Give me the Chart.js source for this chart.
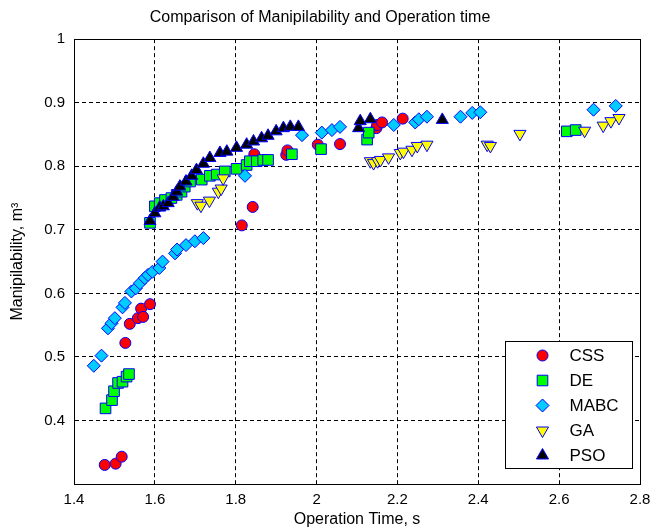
<!DOCTYPE html>
<html>
<head>
<meta charset="utf-8">
<script src="https://cdn.jsdelivr.net/npm/chart.js@4/dist/chart.umd.min.js"></script>
<style>
  html, body { margin: 0; padding: 0; background: #fff; }
  #wrap { width: 665px; height: 531px; }
</style>
</head>
<body>
<div id="wrap"><canvas id="c" width="665" height="531"></canvas></div>
<script>
// values
const cssX = [1.476, 1.503, 1.518, 1.527, 1.538, 1.558, 1.566, 1.571, 1.588, 1.815, 1.842, 1.846, 1.925, 1.928, 2.003, 2.058, 2.148, 2.150, 2.162, 2.213];
const cssY = [0.330, 0.332, 0.343, 0.522, 0.552, 0.561, 0.576, 0.563, 0.583, 0.707, 0.736, 0.819, 0.818, 0.825, 0.834, 0.835, 0.860, 0.865, 0.869, 0.875];

const deX = [1.478, 1.494, 1.499, 1.509, 1.520, 1.530, 1.536, 1.588, 1.600, 1.612, 1.625, 1.641, 1.654, 1.666, 1.674, 1.687, 1.716, 1.736, 1.753, 1.773, 1.802, 1.827, 1.835, 1.852, 1.868, 1.880, 1.939, 2.011, 2.125, 2.129, 2.619, 2.641];
const deY = [0.419, 0.432, 0.446, 0.459, 0.461, 0.469, 0.473, 0.711, 0.737, 0.742, 0.747, 0.750, 0.755, 0.760, 0.768, 0.776, 0.779, 0.785, 0.787, 0.792, 0.796, 0.802, 0.808, 0.808, 0.810, 0.810, 0.819, 0.827, 0.842, 0.853, 0.855, 0.857];

const mabcX = [1.449, 1.468, 1.484, 1.493, 1.501, 1.520, 1.526, 1.542, 1.553, 1.563, 1.575, 1.583, 1.594, 1.611, 1.619, 1.650, 1.655, 1.677, 1.699, 1.720, 1.823, 1.964, 2.013, 2.038, 2.058, 2.191, 2.244, 2.253, 2.273, 2.356, 2.385, 2.405, 2.685, 2.740];
const mabcY = [0.486, 0.502, 0.545, 0.553, 0.561, 0.578, 0.585, 0.603, 0.608, 0.616, 0.624, 0.629, 0.634, 0.640, 0.650, 0.663, 0.669, 0.676, 0.682, 0.687, 0.785, 0.849, 0.853, 0.857, 0.862, 0.865, 0.869, 0.874, 0.878, 0.878, 0.884, 0.885, 0.889, 0.895];

const gaX = [1.705, 1.714, 1.735, 1.757, 1.764, 1.769, 2.133, 2.141, 2.151, 2.158, 2.178, 2.207, 2.215, 2.236, 2.249, 2.273, 2.422, 2.430, 2.503, 2.663, 2.709, 2.728, 2.748];
const gaY = [0.742, 0.738, 0.746, 0.760, 0.765, 0.781, 0.808, 0.805, 0.808, 0.810, 0.814, 0.821, 0.823, 0.826, 0.832, 0.834, 0.834, 0.832, 0.851, 0.856, 0.864, 0.871, 0.876];

const psoX = [1.588, 1.600, 1.612, 1.621, 1.633, 1.645, 1.654, 1.662, 1.677, 1.691, 1.703, 1.720, 1.736, 1.761, 1.778, 1.802, 1.827, 1.844, 1.864, 1.880, 1.900, 1.918, 1.935, 1.955, 2.104, 2.108, 2.133, 2.311];
const psoY = [0.714, 0.726, 0.735, 0.737, 0.742, 0.752, 0.760, 0.768, 0.776, 0.785, 0.794, 0.804, 0.813, 0.821, 0.823, 0.829, 0.834, 0.839, 0.844, 0.848, 0.855, 0.860, 0.862, 0.862, 0.860, 0.871, 0.874, 0.873];

const seriesNames = ['CSS', 'DE', 'MABC', 'GA', 'PSO'];
const xTicks = [1.4, 1.6, 1.8, 2, 2.2, 2.4, 2.6, 2.8];
const yTicks = [0.3, 0.4, 0.5, 0.6, 0.7, 0.8, 0.9, 1];

const FONT = '"Liberation Sans", Arial, sans-serif';

function pts(xs, ys) {
  return xs.map((x, i) => ({ x: x, y: ys[i] }));
}

// frame around the plot + legend inside the axes
const framePlugin = {
  id: 'frame',
  afterDraw(chart) {
    const ctx = chart.ctx;
    const a = chart.chartArea;
    ctx.save();
    ctx.strokeStyle = '#000';
    ctx.lineWidth = 1;
    ctx.strokeRect(Math.round(a.left) + 0.5, Math.round(a.top) + 0.5,
      Math.round(a.right - a.left), Math.round(a.bottom - a.top));

    // legend box
    const bx = 505.5, by = 341.5, bw = 127, bh = 127;
    ctx.fillStyle = '#fff';
    ctx.fillRect(bx, by, bw, bh);
    ctx.strokeRect(bx, by, bw, bh);
    ctx.font = '17px ' + FONT;
    ctx.textBaseline = 'middle';
    chart.data.datasets.forEach((ds, i) => {
      const y = by + 14 + i * 25;
      ctx.fillStyle = ds.backgroundColor;
      ctx.strokeStyle = ds.borderColor;
      ctx.lineWidth = ds.borderWidth;
      Chart.helpers.drawPoint(ctx, {
        pointStyle: ds.pointStyle,
        rotation: ds.rotation || 0,
        radius: ds.pointRadius,
        borderWidth: ds.borderWidth
      }, bx + 37, y);
      ctx.fillStyle = '#000';
      ctx.fillText(ds.label, bx + 64, y + 1);
    });
    ctx.restore();
  }
};

const ctx = document.getElementById('c');
new Chart(ctx, {
  type: 'scatter',
  data: {
    datasets: [
      { label: seriesNames[0], data: pts(cssX, cssY), pointStyle: 'circle', pointRadius: 5.5,
        backgroundColor: '#ff0000', borderColor: '#0000ff', borderWidth: 1, order: 5 },
      { label: seriesNames[1], data: pts(deX, deY), pointStyle: 'rect', pointRadius: 7.5,
        backgroundColor: '#00ff00', borderColor: '#0000ff', borderWidth: 1, order: 4 },
      { label: seriesNames[2], data: pts(mabcX, mabcY), pointStyle: 'rectRot', pointRadius: 6.5,
        backgroundColor: '#00ccff', borderColor: '#0000ff', borderWidth: 1, order: 3 },
      { label: seriesNames[3], data: pts(gaX, gaY), pointStyle: 'triangle', rotation: 180, pointRadius: 7,
        backgroundColor: '#ffff00', borderColor: '#0000ff', borderWidth: 1, order: 2 },
      { label: seriesNames[4], data: pts(psoX, psoY), pointStyle: 'triangle', pointRadius: 7,
        backgroundColor: '#000000', borderColor: '#0000ff', borderWidth: 1, order: 1 }
    ]
  },
  options: {
    responsive: false,
    animation: false,
    events: [],
    layout: { padding: { left: 0, right: 25, top: 0, bottom: 0 } },
    plugins: {
      legend: { display: false },
      tooltip: { enabled: false },
      title: {
        display: true,
        text: 'Comparison of Manipilability and Operation time',
        color: '#000',
        font: { family: FONT, size: 16, weight: 'normal' },
        padding: { top: 8, bottom: 12 }
      }
    },
    scales: {
      x: {
        type: 'linear',
        min: xTicks[0],
        max: xTicks[xTicks.length - 1],
        afterBuildTicks: (s) => { s.ticks = xTicks.map(v => ({ value: v })); },
        afterFit: (s) => { s.height = 47; },
        ticks: {
          color: '#000',
          font: { family: FONT, size: 15 },
          padding: 7,
          maxRotation: 0,
          callback: (v) => String(+v.toFixed(1))
        },
        grid: { color: '#000', lineWidth: 1, drawTicks: false },
        border: { display: true, color: '#000', width: 1, dash: [4, 3] },
        title: {
          display: true,
          text: 'Operation Time, s',
          color: '#000',
          font: { family: FONT, size: 16 },
          padding: { top: 0, bottom: 2 }
        }
      },
      y: {
        type: 'linear',
        min: yTicks[0],
        max: yTicks[yTicks.length - 1],
        afterBuildTicks: (s) => { s.ticks = yTicks.map(v => ({ value: v })); },
        afterFit: (s) => { s.width = 74; },
        ticks: {
          color: '#000',
          font: { family: FONT, size: 15 },
          padding: 9,
          callback: (v) => v === yTicks[0] ? '' : String(+v.toFixed(1))
        },
        grid: { color: '#000', lineWidth: 1, drawTicks: false },
        border: { display: true, color: '#000', width: 1, dash: [4, 3] },
        title: {
          display: true,
          text: 'Manipilability, m\u00b3',
          color: '#000',
          font: { family: FONT, size: 16 },
          padding: { top: 8, bottom: 0 }
        }
      }
    }
  },
  plugins: [framePlugin]
});
</script>
</body>
</html>
